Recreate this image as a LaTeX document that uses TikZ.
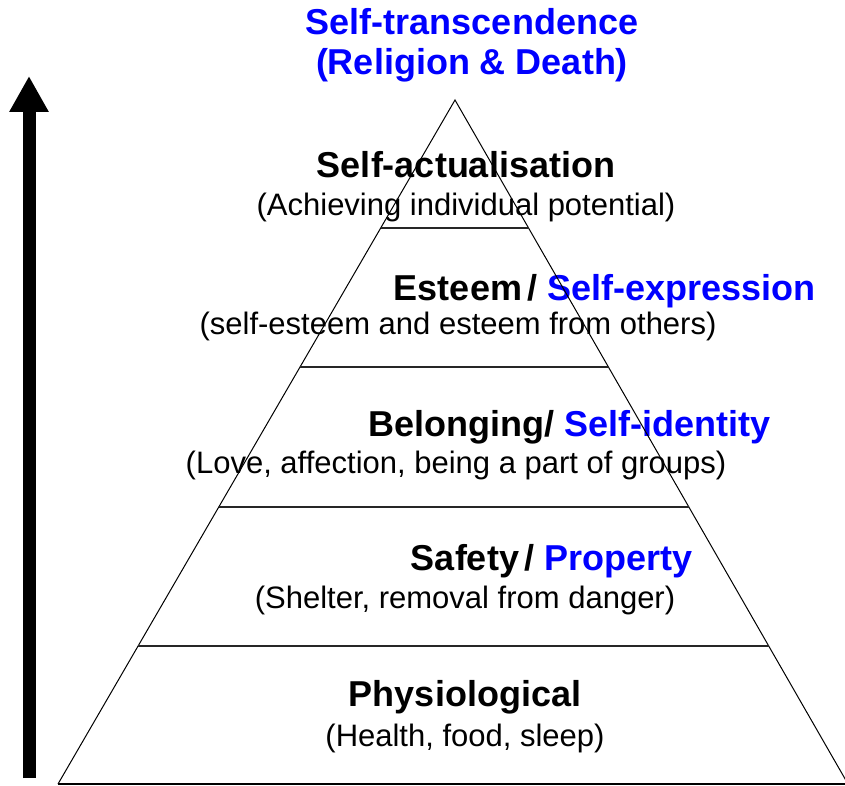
\documentclass[tikz,border=0pt]{standalone}
\usepackage{fontspec}
\setmainfont{Liberation Sans}
\usetikzlibrary{positioning,calc,arrows.meta}
\tikzstyle{level} = [font=\fontsize{36}{40}\selectfont\bfseries, inner sep=0pt,
text height=26pt, text depth=0pt]
\tikzstyle{detail} = [font=\fontsize{31}{36}\selectfont, inner sep=0pt,
text height=22pt, text depth=0pt]
\tikzstyle{title} = [level, text=blue]
\tikzstyle{side} = [draw, line width=1pt]
\tikzstyle{divider} = [draw, line width=2.2pt, black!85]
\tikzstyle{line} = [draw, line width=13pt, -{Triangle[width=37pt,length=36pt]}]

\begin{document}
\begin{tikzpicture}[x=1pt, y=-1pt, node distance=39pt, on grid]
\useasboundingbox (0,0) rectangle (845,786);
% Place nodes
\node [title] (trans) at (472,22) {Self-transcendence};
\node [title, below=40pt of trans] (transsub) {(Religion \& Death)};
\node [level] (actual) at (466,165) {Self-actualisation};
\node [detail, below=of actual] (actualtxt) {(Achieving individual potential)};
\node [level] (esteem) at (458,287) {Esteem};
\node [level, anchor=base west] (esteemblue) at ([xshift=5pt]esteem.base east) {/ \textcolor{blue}{Self-expression}};
\node [detail, below=36pt of esteem] (esteemtxt) {(self-esteem and esteem from others)};
\node [level] (belong) at (456,423) {Belonging};
\node [level, anchor=base west] (belongblue) at (belong.base east) {/ \textcolor{blue}{Self-identity}};
\node [detail, below=of belong] (belongtxt) {(Love, affection, being a part of groups)};
\node [level] (safety) at (465,557) {Safety};
\node [level, anchor=base west] (safetyblue) at ([xshift=5pt]safety.base east) {/ \textcolor{blue}{Property}};
\node [detail, below=40pt of safety] (safetytxt) {(Shelter, removal from danger)};
\node [level] (physio) at (465,693) {Physiological};
\node [detail, below=42pt of physio] (physiotxt) {(Health, food, sleep)};
% Pyramid
\coordinate (apex) at (455,100);
\coordinate (baseleft) at (58,784);
\coordinate (baseright) at (848,784);
\path [side] (baseleft) -- (apex) -- (baseright);
\path [draw, line width=1.6pt] (baseleft) -- (baseright);
\foreach \t in {0.1871,0.3904,0.5950,0.7982}
  \path [divider] ($(apex)!\t!(baseleft)$) -- ($(apex)!\t!(baseright)$);
% Arrow
\coordinate (arrowfoot) at (29,778);
\coordinate (arrowtop) at (29,76);
\path [line] (arrowfoot) -- (arrowtop);
\end{tikzpicture}
\end{document}
